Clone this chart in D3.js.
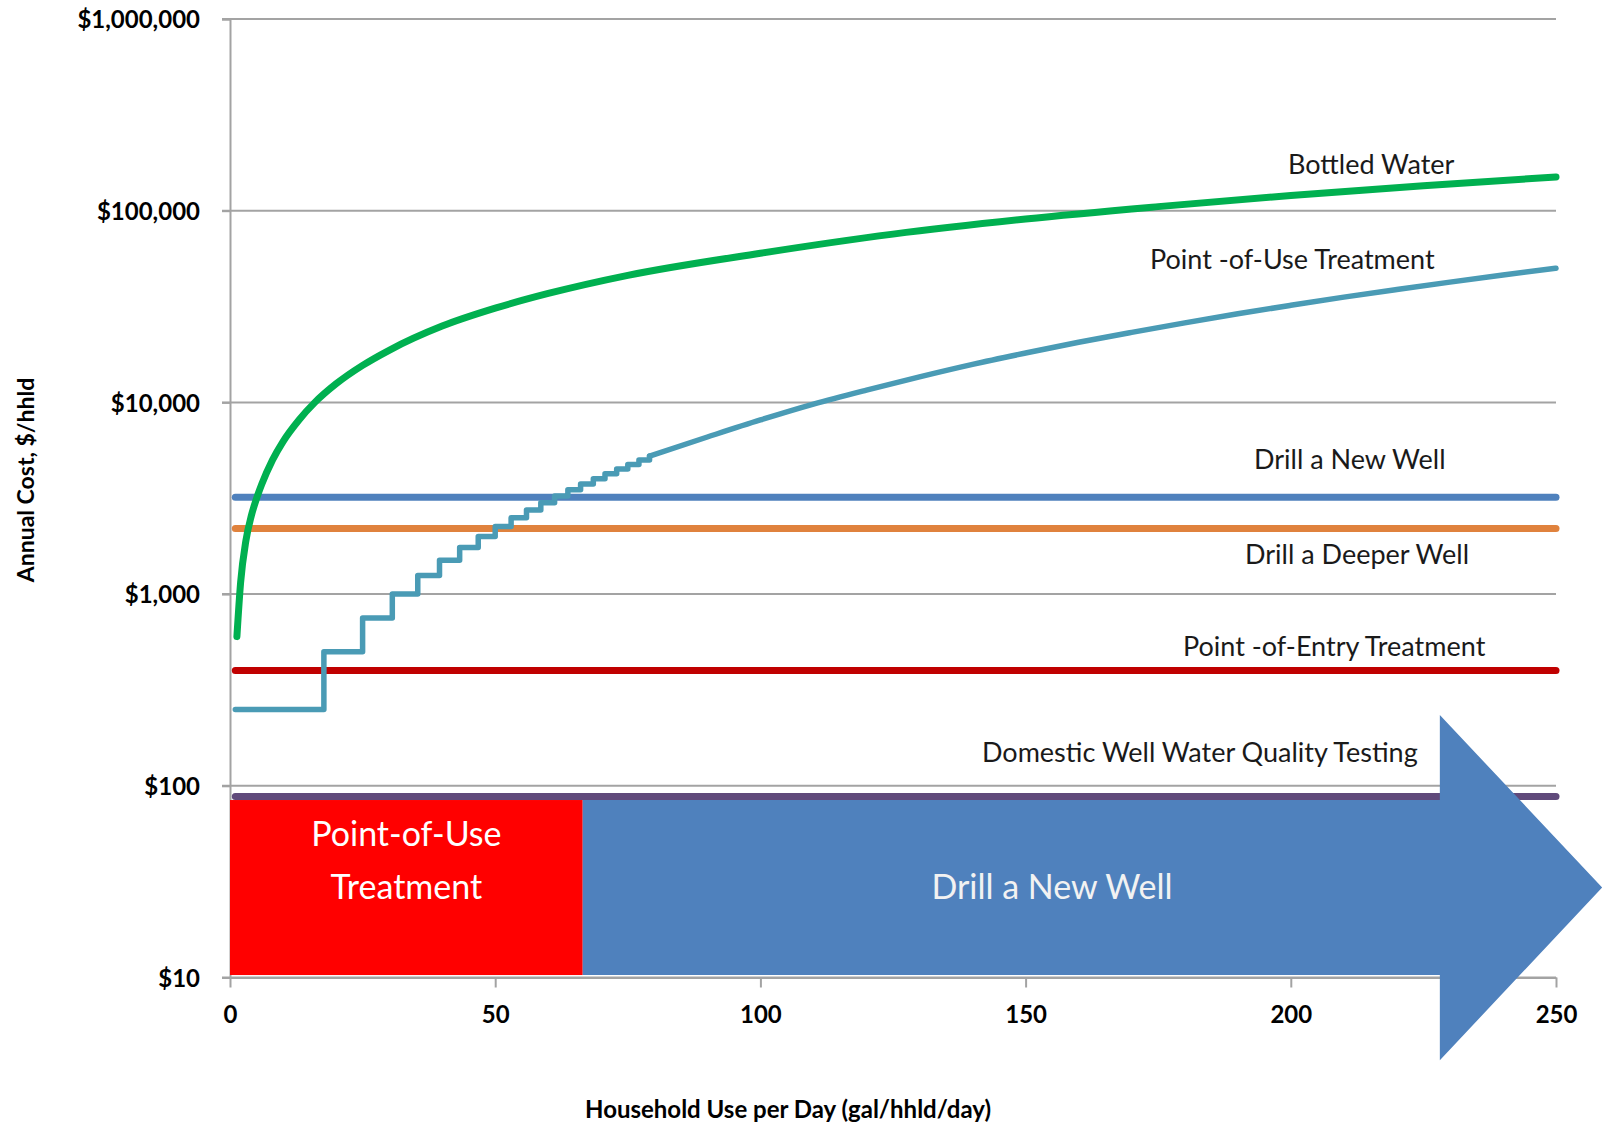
<!DOCTYPE html>
<html><head><meta charset="utf-8">
<script src="https://cdn.jsdelivr.net/npm/d3@7"></script>
<style>
body{margin:0;background:#fff;}
svg{display:block;}
text{font-family:Lato,"Open Sans",sans-serif;}
</style></head><body>
<svg id="chart" width="1604" height="1126"></svg>
<script>
// ---------- data ----------
const xTicks = [0, 50, 100, 150, 200, 250];
const yTicks = [10, 100, 1000, 10000, 100000, 1000000];

// Bottled Water (annual cost vs gal/hhld/day)
const bottledX = [1.3, 2, 3, 4, 5, 6, 8, 10, 13, 16, 20, 25, 30, 40, 50, 60, 75, 100, 125, 150, 175, 200, 225, 250];
const bottledY = [600, 1150, 1900, 2550, 3150, 3750, 5000, 6250, 8100, 10000, 12500, 15600, 18700, 25000, 31000, 37000, 46000, 60000, 75500, 90500, 105000, 120000, 135000, 150000];

// Point-of-Use Treatment: visible stair steps (x where each step starts, cost level)
const pouStepX = [1, 17.7, 25.0, 30.6, 35.4, 39.5, 43.3, 46.8, 50.0, 53.0, 55.9, 58.6, 61.2, 63.7, 66.1, 68.5, 70.7, 72.9, 75.0, 77.1, 79.1];
const pouStepY = [250, 500, 750, 1000, 1250, 1500, 1750, 2000, 2250, 2500, 2750, 3000, 3250, 3500, 3750, 4000, 4250, 4500, 4750, 5000, 5250];
// Point-of-Use Treatment: fine steps beyond ~80 gal/day
const pouCurveX = [79.1, 90, 100, 110, 120, 130, 140, 150, 160, 170, 180, 190, 200, 210, 220, 230, 240, 250];
const pouCurveY = [5250, 6600, 8100, 9800, 11600, 13600, 15800, 18100, 20600, 23200, 26000, 29000, 32100, 35400, 38800, 42400, 46200, 50100];

// Flat-cost options
const flatNames  = ["Drill a New Well", "Drill a Deeper Well", "Point-of-Entry Treatment", "Domestic Well Water Quality Testing"];
const flatValues = [3200, 2200, 400, 88];
const flatRange  = [1, 250];

// Best-option regions along the x axis
const regionNames = ["Point-of-Use Treatment", "Drill a New Well"];
const regionX0 = [0, 66.5];
const regionX1 = [66.5, 250];

// ---------- layout ----------
const svg = d3.select("#chart");
const x = d3.scaleLinear().domain([0, 250]).range([230, 1556]);
const y = d3.scaleLog().domain([10, 1000000]).range([977.5, 19]);
const gridColor = "#A3A3A3";

// gridlines
svg.append("g").selectAll("line").data(yTicks).join("line")
  .attr("x1", x(0) - 8).attr("x2", x(250))
  .attr("y1", d => y(d)).attr("y2", d => y(d))
  .attr("stroke", gridColor).attr("stroke-width", 2);

// y axis
const yAxis = svg.append("g").attr("transform", `translate(${x(0)},0)`)
  .call(d3.axisLeft(y).tickValues(yTicks).tickFormat(d3.format("$,.0f")).tickSize(8).tickPadding(22));
yAxis.select(".domain").attr("stroke", gridColor).attr("stroke-width", 2);
yAxis.selectAll(".tick line").attr("stroke", gridColor).attr("stroke-width", 2);
yAxis.selectAll(".tick text").attr("font-size", 24).attr("font-weight", 700).attr("fill", "#000")
  .attr("font-family", "Lato").attr("dy", "0.36em");

// x axis
const xAxis = svg.append("g").attr("transform", `translate(0,${y(10)})`)
  .call(d3.axisBottom(x).tickValues(xTicks).tickFormat(d3.format("d")).tickSize(10).tickSizeOuter(0).tickPadding(18));
xAxis.select(".domain").attr("stroke", gridColor).attr("stroke-width", 2);
xAxis.selectAll(".tick line").attr("stroke", gridColor).attr("stroke-width", 2);
xAxis.selectAll(".tick text").attr("font-size", 24).attr("font-weight", 700).attr("fill", "#000")
  .attr("font-family", "Lato");

// axis titles
svg.append("text").attr("transform", "translate(34,480) rotate(-90)")
  .attr("text-anchor", "middle").attr("font-size", 23).attr("font-weight", 700).attr("fill", "#000")
  .text("Annual Cost, $/hhld");
svg.append("text").attr("x", 788).attr("y", 1118)
  .attr("text-anchor", "middle").attr("font-size", 24).attr("font-weight", 700).attr("fill", "#000")
  .text("Household Use per Day (gal/hhld/day)");

// ---------- series ----------
const flatColors = ["#4F81BD", "#E0823D", "#C00000", "#604A7B"];
svg.append("g").selectAll("line").data(flatValues).join("line")
  .attr("x1", x(flatRange[0])).attr("x2", x(flatRange[1]))
  .attr("y1", d => y(d)).attr("y2", d => y(d))
  .attr("stroke", (d, i) => flatColors[i]).attr("stroke-width", 7)
  .attr("stroke-linecap", "round");

const lineGen = d3.line().x(d => x(d[0])).y(d => y(d[1]));
svg.append("path").datum(pouStepX.map((v, i) => [v, pouStepY[i]]))
  .attr("d", lineGen.curve(d3.curveStepAfter))
  .attr("fill", "none").attr("stroke", "#4A9BB5").attr("stroke-width", 5.5)
  .attr("stroke-linejoin", "round").attr("stroke-linecap", "round");
svg.append("path").datum(pouCurveX.map((v, i) => [v, pouCurveY[i]]))
  .attr("d", d3.line().x(d => x(d[0])).y(d => y(d[1])).curve(d3.curveMonotoneX))
  .attr("fill", "none").attr("stroke", "#4A9BB5").attr("stroke-width", 5.5)
  .attr("stroke-linejoin", "round").attr("stroke-linecap", "round");

svg.append("path").datum(bottledX.map((v, i) => [v, bottledY[i]]))
  .attr("d", d3.line().x(d => x(d[0])).y(d => y(d[1])).curve(d3.curveMonotoneX))
  .attr("fill", "none").attr("stroke", "#00B050").attr("stroke-width", 7)
  .attr("stroke-linejoin", "round").attr("stroke-linecap", "round");

// ---------- region shapes ----------
const bandTop = 84.3, bandBottom = 10.3;
svg.append("rect")
  .attr("x", x(regionX0[0])).attr("width", x(regionX1[0]) - x(regionX0[0]))
  .attr("y", y(bandTop)).attr("height", y(bandBottom) - y(bandTop))
  .attr("fill", "#FF0000");

const headBase = 228.1, headTip = 258.7, headTop = 234, headBottom = 3.7, headMid = 29.5;
const arrowPts = [
  [regionX0[1], bandTop], [headBase, bandTop], [headBase, headTop], [headTip, headMid],
  [headBase, headBottom], [headBase, bandBottom], [regionX0[1], bandBottom]
];
svg.append("polygon")
  .attr("points", arrowPts.map(p => [x(p[0]), y(p[1])].join(",")).join(" "))
  .attr("fill", "#4F81BD");

svg.append("text").attr("x", x((regionX0[0] + regionX1[0]) / 2)).attr("y", 846)
  .attr("text-anchor", "middle").attr("font-size", 34).attr("fill", "#fff").text("Point-of-Use");
svg.append("text").attr("x", x((regionX0[0] + regionX1[0]) / 2)).attr("y", 899)
  .attr("text-anchor", "middle").attr("font-size", 34).attr("fill", "#fff").text("Treatment");
svg.append("text").attr("x", 1052).attr("y", 899)
  .attr("text-anchor", "middle").attr("font-size", 34).attr("fill", "#F2F2F2").text(regionNames[1]);

// ---------- series labels ----------
const labels = [
  ["Bottled Water", 1288, 174],
  ["Point -of-Use Treatment", 1150, 269],
  ["Drill a New Well", 1254, 469],
  ["Drill a Deeper Well", 1245, 564],
  ["Point -of-Entry Treatment", 1183, 656],
  ["Domestic Well Water Quality Testing", 982, 762]
];
svg.append("g").selectAll("text").data(labels).join("text")
  .attr("x", d => d[1]).attr("y", d => d[2])
  .attr("font-size", 27).attr("fill", "#1a1a1a").text(d => d[0]);
</script>
</body></html>
